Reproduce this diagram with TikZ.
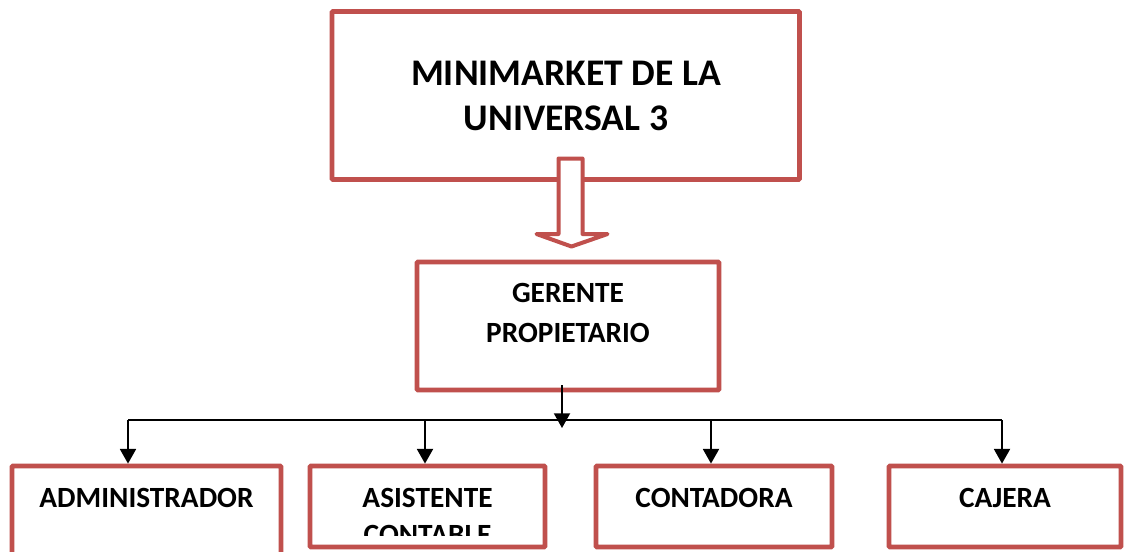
\documentclass[tikz,border=0pt]{standalone}
\usepackage{fontspec}
\setmainfont{Carlito}
\usetikzlibrary{arrows.meta}
\definecolor{boxred}{HTML}{C0504D}
\tikzset{
  box/.style={draw=boxred, line width=3.6pt, fill=white, inner sep=0pt, rounded corners=0.8pt},
  bigtext/.style={font=\fontsize{28.2}{33.75}\selectfont\bfseries, align=center, inner sep=0pt},
  midtext/.style={font=\fontsize{22}{30}\selectfont\bfseries, align=center, inner sep=0pt},
  smalltext/.style={font=\fontsize{22}{27.75}\selectfont\bfseries, align=center, inner sep=0pt},
  conn/.style={draw=black, line width=1.4pt},
  arr/.style={conn, -{Triangle[width=12pt,length=11pt]}},
  blockarrow/.style={draw=boxred, line width=3pt, fill=white, line join=round}
}
\begin{document}
\begin{tikzpicture}[x=0.75pt,y=-0.75pt]
\useasboundingbox (0,0) rectangle (1124,551);
\clip (0,0) rectangle (1124,551);
\fill[white] (0,0) rectangle (1124,551);

% boxes
\node[box, minimum width=350.6pt, minimum height=126pt] (top) at (565.75,95.5) {};
\node[box, minimum width=226.5pt, minimum height=96pt] (ger) at (568,326) {};
\node[box, minimum width=201.75pt, minimum height=75pt] (adm) at (146.5,516) {};
\node[box, minimum width=176.25pt, minimum height=60.75pt] (asi) at (427.5,506.5) {};
\node[box, minimum width=177pt, minimum height=60.75pt] (con) at (714,506.5) {};
\node[box, minimum width=174pt, minimum height=60.75pt] (caj) at (1005,506.5) {};

% block arrow
\draw[blockarrow] (558.5,158.5) -- (582.5,158.5) -- (582.5,234) -- (607.5,234)
  -- (571.5,246.5) -- (536.5,234) -- (558.5,234) -- cycle;

% texts (base anchor = baseline of the last line)
\node[bigtext, anchor=base] (ttop) at (566,130) {MINIMARKET DE LA\\UNIVERSAL 3};
\node[midtext, anchor=base] (tger) at (568,342) {GERENTE\\PROPIETARIO};
\node[smalltext, anchor=base] (tadm) at (146.5,507) {ADMINISTRADOR};
\begin{scope}
  \clip (312,468) rectangle (543,535);
  \node[smalltext, anchor=base] (tasi) at (427.5,544) {ASISTENTE\\CONTABLE};
\end{scope}
\node[smalltext, anchor=base] (tcon) at (714,507) {CONTADORA};
\node[smalltext, anchor=base] (tcaj) at (1005,507) {CAJERA};

% connectors
\coordinate (gs) at (562,385);
\coordinate (jc) at (562,428);
\coordinate (j1) at (128,420);
\coordinate (j2) at (425,420);
\coordinate (j3) at (711,420);
\coordinate (j4) at (1002,420);
\draw[conn] (j1) -- (j4);
\draw[arr] (gs) -- (jc);
\draw[arr] (j1) -- (j1 |- adm.north);
\draw[arr] (j2) -- (j2 |- asi.north);
\draw[arr] (j3) -- (j3 |- con.north);
\draw[arr] (j4) -- (j4 |- caj.north);
\end{tikzpicture}
\end{document}
